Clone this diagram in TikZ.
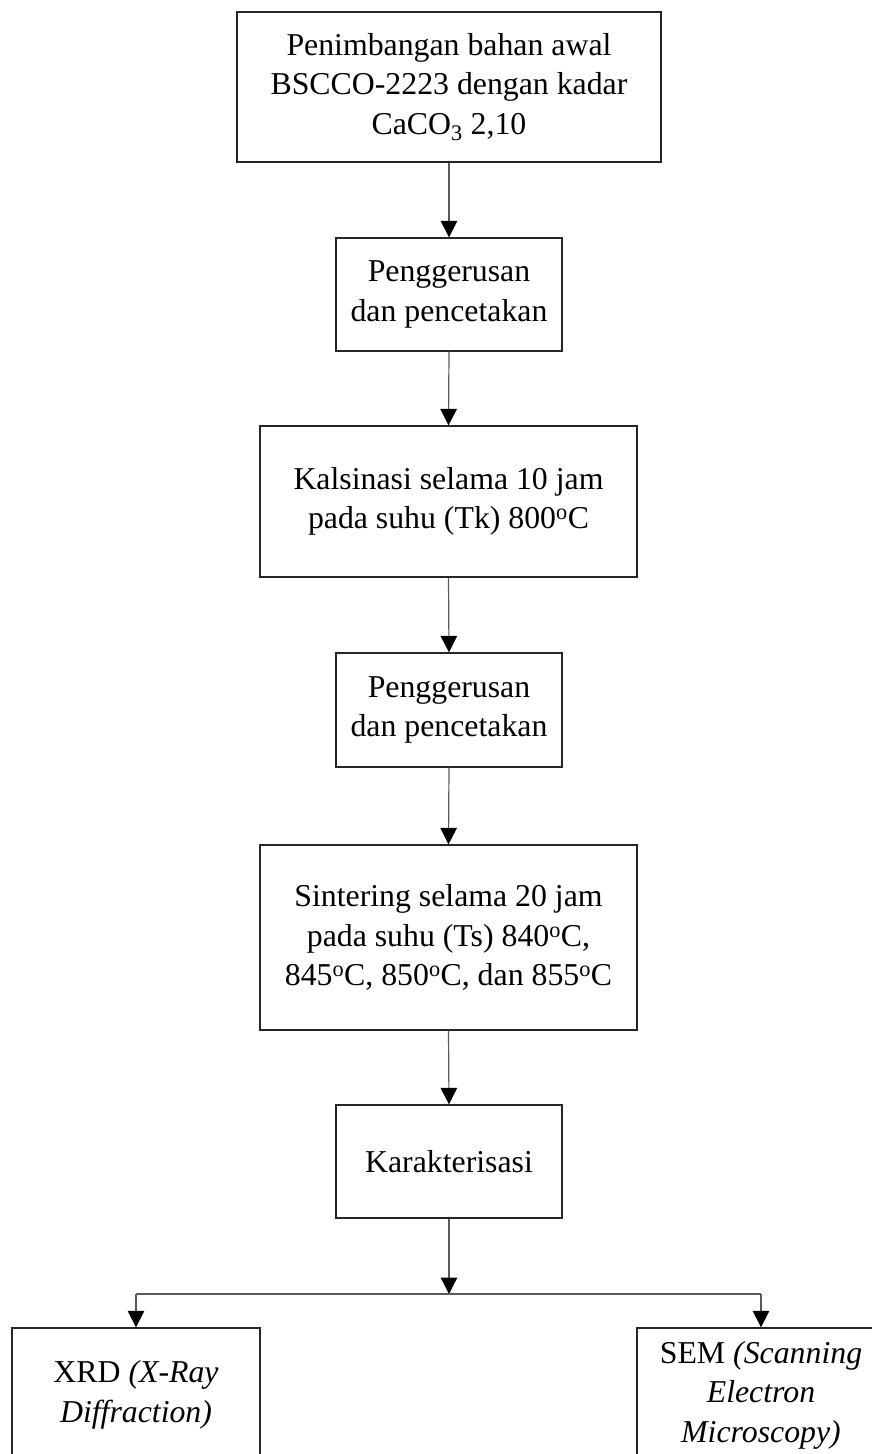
\documentclass[tikz,border=0pt]{standalone}
\usepackage{fontspec}
\setmainfont{Liberation Serif}
\usetikzlibrary{arrows.meta}
\begin{document}
\begin{tikzpicture}[x=1pt,y=-1pt,
  box/.style={draw=black!85, line width=1.3pt, inner sep=0pt, align=center,
    font=\fontsize{31.8}{39.5}\selectfont},
  conn/.style={draw=black!65, line width=1.2pt},
  arr/.style={conn, -{Triangle[width=16.5pt,length=16.5pt,fill=black,color=black]}}]
\useasboundingbox (0,0) rectangle (872,1454);
\node[box, minimum width=424pt, minimum height=150pt] (b1) at (449,87)
  {Penimbangan bahan awal\\BSCCO-2223 dengan kadar\\CaCO\textsubscript{3} 2,10};
\node[box, minimum width=226pt, minimum height=113pt] (b2) at (449,294.5)
  {Penggerusan\\dan pencetakan};
\node[box, minimum width=377pt, minimum height=151pt] (b3) at (448.5,501.5)
  {Kalsinasi selama 10 jam\\pada suhu (Tk) 800\textsuperscript{o}C};
\node[box, minimum width=226pt, minimum height=114pt] (b4) at (449,710)
  {Penggerusan\\dan pencetakan};
\node[box, minimum width=377pt, minimum height=185pt] (b5) at (448.5,937.5)
  {Sintering selama 20 jam\\pada suhu (Ts) 840\textsuperscript{o}C,\\845\textsuperscript{o}C, 850\textsuperscript{o}C, dan 855\textsuperscript{o}C};
\node[box, minimum width=226pt, minimum height=113pt] (b6) at (449,1161.5)
  {Karakterisasi};
\node[box, minimum width=248pt, minimum height=134pt] (xrd) at (136,1395)
  {XRD \textit{(X-Ray}\\\textit{Diffraction)}};
\node[box, minimum width=248pt, minimum height=134pt] (sem) at (761,1395)
  {SEM \textit{(Scanning}\\\textit{Electron}\\\textit{Microscopy)}};
\coordinate (j) at (449,1294);
\coordinate (jl) at (136,1294);
\coordinate (jr) at (761,1294);
\draw[arr] (b1.south) -- (b2.north);
\draw[arr] (b2.south) -- (b3.north);
\draw[arr] (b3.south) -- (b4.north);
\draw[arr] (b4.south) -- (b5.north);
\draw[arr] (b5.south) -- (b6.north);
\draw[arr] (b6.south) -- (j);
\draw[conn] (jl) -- (jr);
\draw[arr] (jl) -- (xrd.north);
\draw[arr] (jr) -- (sem.north);
\end{tikzpicture}
\end{document}
